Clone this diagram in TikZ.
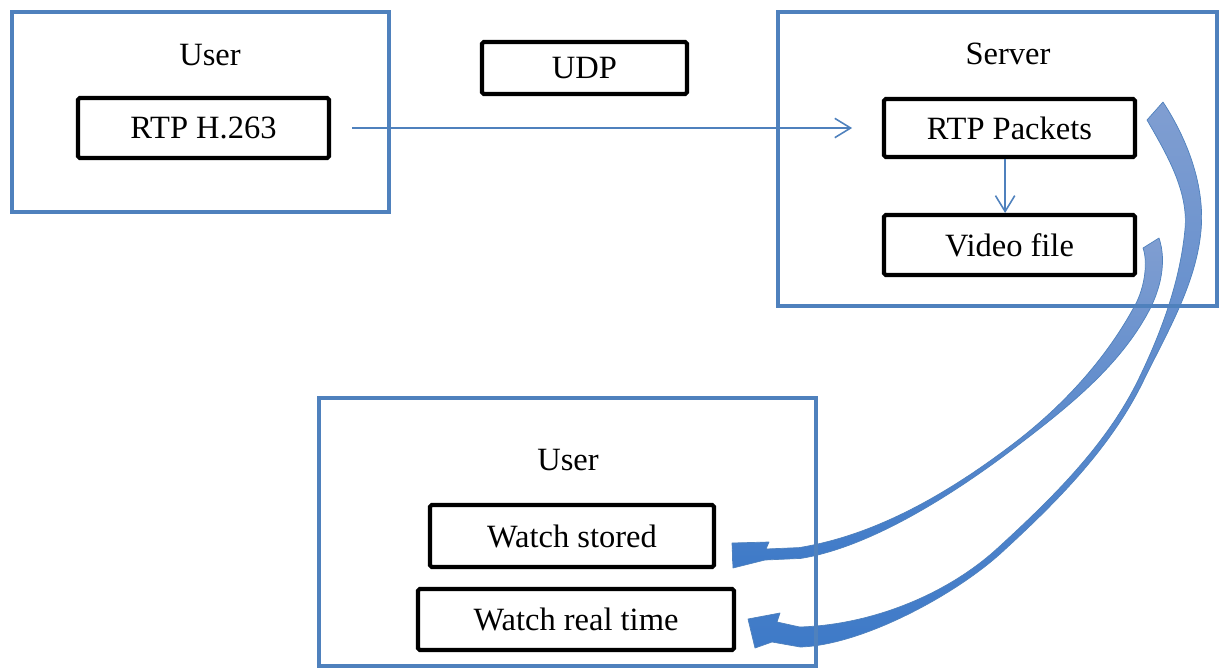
\documentclass[tikz,border=0pt]{standalone}
\usepackage{fontspec}
\setmainfont{Liberation Serif}
\usetikzlibrary{arrows.meta}

\definecolor{frameblue}{RGB}{79,129,189}
\definecolor{tailblue}{RGB}{128,158,209}
\definecolor{headblue}{RGB}{62,122,200}

\tikzstyle{frame} = [rectangle,draw=frameblue,line width=2.3pt]
\tikzstyle{block} = [rectangle,draw=black,line width=2.3pt,rounded corners=1pt]
\tikzstyle{link} = [draw=frameblue,line width=0.9pt,-{Straight Barb[length=9pt,width=11pt]}]
\tikzstyle{bigarrow} = [draw=frameblue,line width=0.4pt,line join=round,top color=tailblue,bottom color=headblue]
\tikzstyle{every node}=[font=\fontsize{18.5}{22}\selectfont]

\begin{document}
\begin{tikzpicture}[x=0.02cm,y=-0.02cm]
	\useasboundingbox (0,0) rectangle (1221,670);
	% curved arrows from the server to the user
	\path[bigarrow] (1163,102) .. controls (1187.6,139.6) and (1205.2,186.2) .. (1201,230.8)
		.. controls (1196,284.3) and (1166.8,332.8) .. (1143.3,381.1)
		.. controls (1111,447.7) and (1056.5,502.2) .. (1002,552.2)
		.. controls (956,594.4) and (862.7,645.1) .. (800.3,647)
		-- (772,642) -- (755,648) -- (748,619) -- (780,613) -- (777,622) -- (799.7,627)
		.. controls (870.2,624.9) and (946,595.5) .. (998,547.8)
		.. controls (1052,498.3) and (1106.7,444.9) .. (1138.7,378.9)
		.. controls (1161.5,331.9) and (1180.1,281.2) .. (1185,229.2)
		.. controls (1188.6,190.9) and (1166.3,153.5) .. (1147,120) -- cycle;
	\path[bigarrow] (1159,238) .. controls (1167,262) and (1160.4,289.5) .. (1148.6,311.5)
		.. controls (1119,367) and (1066.3,408.4) .. (1016.2,446.6)
		.. controls (958,491) and (872.7,546.8) .. (800.9,558.4)
		-- (765,560) -- (733,568) -- (732,543) -- (769,542) -- (766,549) -- (799.1,547.6)
		.. controls (877.6,534.9) and (950.5,491.6) .. (1013.8,443.4)
		.. controls (1062.8,406.1) and (1106.5,358.6) .. (1135.4,304.5)
		.. controls (1144.8,286.9) and (1148,262) .. (1143,248) -- cycle;
	% sender
	\node[frame,minimum width=377*0.02cm,minimum height=200*0.02cm] (U1) at (200.5,112) {};
	\node (U1label) at (210,55) {User};
	\node[block,minimum width=251*0.02cm,minimum height=60*0.02cm] (H263) at (203.5,128) {RTP H.263};
	\node[block,minimum width=205*0.02cm,minimum height=52*0.02cm] (UDP) at (584.5,68) {UDP};
	% server
	\node[frame,minimum width=439*0.02cm,minimum height=294*0.02cm] (S) at (997.5,159) {};
	\node (Slabel) at (1008,54) {Server};
	\node[block,minimum width=251*0.02cm,minimum height=58*0.02cm] (P) at (1009.5,128) {RTP Packets};
	\node[block,minimum width=251*0.02cm,minimum height=60*0.02cm] (V) at (1009.5,245) {Video file};
	% receiver
	\node[frame,minimum width=497*0.02cm,minimum height=268*0.02cm] (U2) at (567.5,532) {};
	\node (U2label) at (568,460) {User};
	\node[block,minimum width=284*0.02cm,minimum height=62*0.02cm] (WS) at (572,536) {Watch stored};
	\node[block,minimum width=316*0.02cm,minimum height=61*0.02cm] (WR) at (576,619.5) {Watch real time};
	\draw[link,shorten <=12pt,shorten >=17pt] (H263) -- (P);
	\draw[link] ([xshift=-2.5pt]P.south) -- ([xshift=-2.5pt]V.north);
\end{tikzpicture}
\end{document}
